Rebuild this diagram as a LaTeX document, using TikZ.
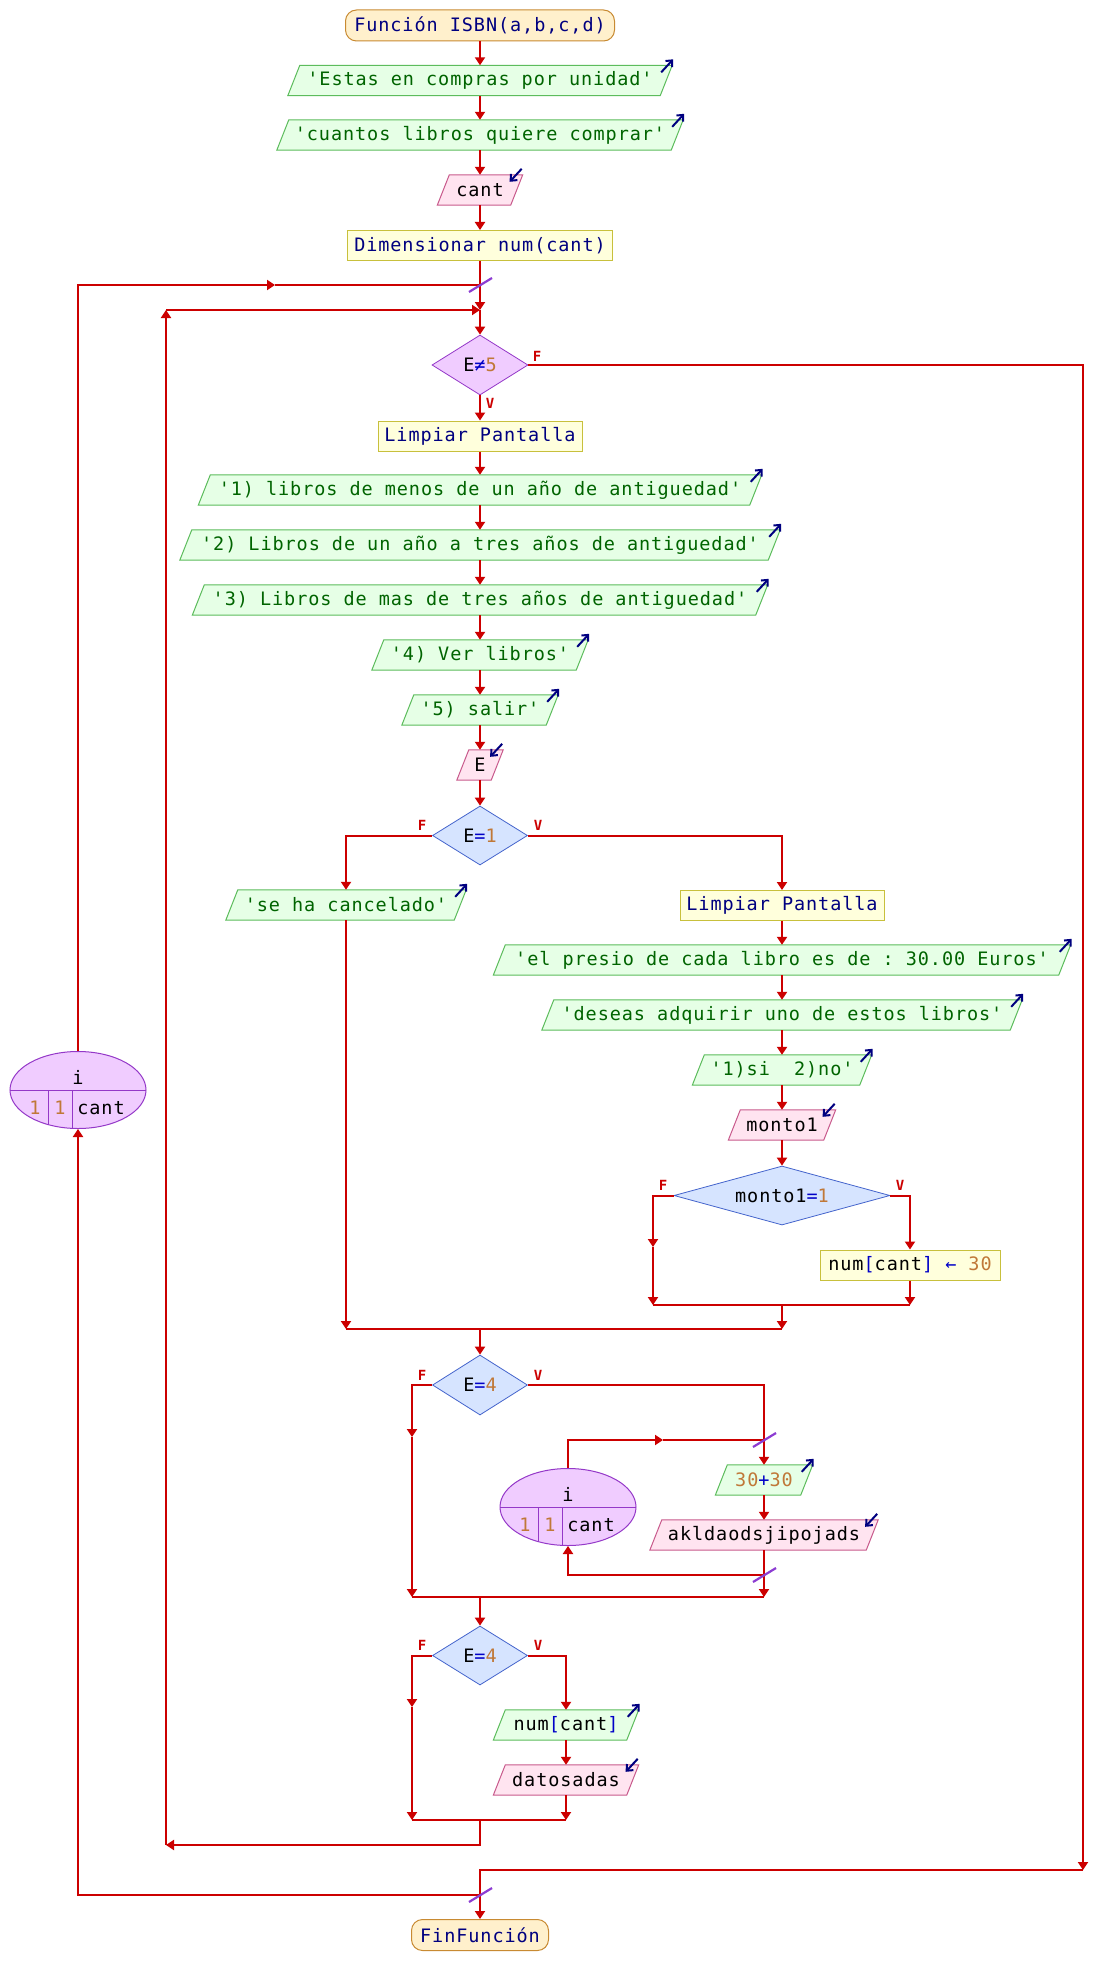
\documentclass[tikz,border=0pt]{standalone}
\usepackage{fontspec}
\setmonofont{DejaVu Sans Mono}[LetterSpace=5.0]
\newfontfamily\labelfont{DejaVu Sans Mono}
\usetikzlibrary{arrows.meta,shapes.geometric,backgrounds,calc}

\definecolor{linkred}{HTML}{CC0000}
\definecolor{kwcol}{HTML}{000080}
\definecolor{strcol}{HTML}{006400}
\definecolor{numcol}{HTML}{C07838}
\definecolor{opcol}{HTML}{0000C8}
\definecolor{termfill}{HTML}{FFF0CC}
\definecolor{termdraw}{HTML}{C88A32}
\definecolor{outfill}{HTML}{E6FFE6}
\definecolor{outdraw}{HTML}{5CBC5C}
\definecolor{infill}{HTML}{FFE4F0}
\definecolor{indraw}{HTML}{C85A8C}
\definecolor{procfill}{HTML}{FFFFDC}
\definecolor{procdraw}{HTML}{C8C03C}
\definecolor{iffill}{HTML}{D6E4FF}
\definecolor{ifdraw}{HTML}{4464CC}
\definecolor{loopfill}{HTML}{F0CCFF}
\definecolor{loopdraw}{HTML}{9438C8}
\definecolor{slashcol}{HTML}{8C3CD2}

\newcommand\kwd[1]{\textcolor{kwcol}{#1}}
\newcommand\strg[1]{\textcolor{strcol}{#1}}
\newcommand\numb[1]{\textcolor{numcol}{#1}}
\newcommand\oper[1]{\textcolor{opcol}{#1}}

\tikzset{
  code/.style={font=\fontsize{18.5}{22}\selectfont\ttfamily},
  term/.style={code, rectangle, rounded corners=11pt, draw=termdraw, fill=termfill,
    line width=1pt, minimum height=31pt, inner sep=0pt},
  proc/.style={code, rectangle, draw=procdraw, fill=procfill, line width=1pt,
    minimum height=30pt, inner sep=0pt},
  cond/.style={code, diamond, draw=ifdraw, fill=iffill, line width=0.8pt, inner sep=0pt},
  whilecond/.style={cond, draw=loopdraw, fill=loopfill},
  iobase/.style={code, rectangle, minimum height=30pt, inner sep=0pt},
  flow/.style={draw=linkred, line width=2pt, -{Triangle[width=10pt,length=8pt]}},
  wire/.style={draw=linkred, line width=2pt},
  yesno/.style={font=\fontsize{14}{14}\selectfont\labelfont\bfseries, text=linkred, inner sep=0pt},
  slash/.style={draw=slashcol, line width=2.2pt},
  icon/.style={draw=kwcol, line width=2pt, -{Straight Barb[length=5pt,width=9pt]}},
}

% parallelogram for reading / writing: name, x, y, width, kind (out/in), text
\newcommand\ioshape[6]{%
  \node[iobase, minimum width=#4pt] (#1) at (#2,#3) {#6};
  \begin{scope}[on background layer]
    \filldraw[fill=#5fill, draw=#5draw, line width=1pt]
      ([xshift=12pt]#1.north west) -- (#1.north east)
      -- ([xshift=-12pt]#1.south east) -- (#1.south west) -- cycle;
  \end{scope}
}
\newcommand\outicon[1]{\draw[icon] ($(#1.north east)+(-11,7)$) -- ($(#1.north east)+(1,-6)$);}
\newcommand\inicon[1]{\draw[icon] ($(#1.north east)+(-1,-6)$) -- ($(#1.north east)+(-13,7)$);}

% counting loop ellipse: name, centre
\newcommand\forring[2]{%
  \node[ellipse, draw=loopdraw, fill=loopfill, line width=1pt,
    minimum width=136pt, minimum height=77pt, inner sep=0pt] (#1) at (#2) {};
  \begin{scope}
    \clip (#1.center) ellipse [x radius=68, y radius=38.5];
    \draw[loopdraw, line width=1pt] ($(#1.center)+(-70,0)$) -- ($(#1.center)+(70,0)$);
    \draw[loopdraw, line width=1pt] ($(#1.center)+(-30,0)$) -- ($(#1.center)+(-30,40)$);
    \draw[loopdraw, line width=1pt] ($(#1.center)+(-6,0)$) -- ($(#1.center)+(-6,40)$);
  \end{scope}
  \node[code] (#1-var) at ($(#1.center)+(0,-13)$) {i};
  \node[code] (#1-from) at ($(#1.center)+(-43,18)$) {\numb{1}};
  \node[code] (#1-step) at ($(#1.center)+(-18,18)$) {\numb{1}};
  \node[code] (#1-to) at ($(#1.center)+(23,18)$) {cant};
}

\begin{document}
\begin{tikzpicture}[x=1pt,y=-1pt]
\useasboundingbox (0,0) rectangle (1094,1985);
\begin{scope}[on background layer]
  \fill[white] (0,0) rectangle (1094,1985);
\end{scope}

% ---------- main column ----------
\node[term, minimum width=269pt] (start) at (480,25.5) {\kwd{Función ISBN(a,b,c,d)}};
\ioshape{estas}{480}{80.5}{384}{out}{\strg{'Estas en compras por unidad'}}
\ioshape{cuantos}{480}{135}{406}{out}{\strg{'cuantos libros quiere comprar'}}
\ioshape{leecant}{480}{190}{85}{in}{cant}
\node[proc, minimum width=265pt] (dim) at (480,245.5) {\kwd{Dimensionar num(cant)}};

\node[whilecond, minimum width=96pt, minimum height=60pt, aspect=1.6] (dW) at (480,365) {E\oper{≠}\numb{5}};
\node[proc, minimum width=204pt] (limp1) at (480,436) {\kwd{Limpiar Pantalla}};
\ioshape{op1}{480}{490}{563}{out}{\strg{'1) libros de menos de un año de antiguedad'}}
\ioshape{op2}{480}{545}{600}{out}{\strg{'2) Libros de un año a tres años de antiguedad'}}
\ioshape{op3}{480}{600}{575}{out}{\strg{'3) Libros de mas de tres años de antiguedad'}}
\ioshape{op4}{480}{655}{216}{out}{\strg{'4) Ver libros'}}
\ioshape{op5}{480}{710}{156}{out}{\strg{'5) salir'}}
\ioshape{leeE}{480}{765}{46}{in}{E}

\node[cond, minimum width=95pt, minimum height=59pt, aspect=1.6] (d1) at (480,835.5) {E\oper{=}\numb{1}};
\ioshape{cancel}{346}{905}{240}{out}{\strg{'se ha cancelado'}}
\node[proc, minimum width=204pt] (limp2) at (782,905.5) {\kwd{Limpiar Pantalla}};
\ioshape{precio}{782}{960}{577}{out}{\strg{'el presio de cada libro es de : 30.00 Euros'}}
\ioshape{desea}{782}{1015}{480}{out}{\strg{'deseas adquirir uno de estos libros'}}
\ioshape{sino}{782}{1070}{179}{out}{\strg{'1)si~ 2)no'}}
\ioshape{leemonto}{782}{1125}{107}{in}{monto1}
\node[cond, minimum width=216pt, minimum height=59pt, aspect=3.66] (dm) at (782,1195.5) {monto1\oper{=}\numb{1}};
\node[proc, minimum width=180pt] (asig) at (910,1265) {num\oper{[}cant\oper{]} \oper{←} \numb{30}};

\node[cond, minimum width=95pt, minimum height=60pt, aspect=1.6] (d4a) at (480,1385) {E\oper{=}\numb{4}};
\forring{forB}{568,1507}
\ioshape{suma}{764}{1480}{97}{out}{\numb{30}\oper{+}\numb{30}}
\ioshape{leeakl}{764}{1535}{228}{in}{akldaodsjipojads}

\node[cond, minimum width=95pt, minimum height=59pt, aspect=1.6] (d4b) at (480,1655.5) {E\oper{=}\numb{4}};
\ioshape{vernum}{566}{1725}{145}{out}{num\oper{[}cant\oper{]}}
\ioshape{leedatos}{566}{1780}{145}{in}{datosadas}

\forring{forA}{78,1090}
\node[term, minimum width=137pt] (fin) at (480,1935) {\kwd{FinFunción}};

% ---------- reading / writing markers ----------
\outicon{estas} \outicon{cuantos} \inicon{leecant}
\outicon{op1} \outicon{op2} \outicon{op3} \outicon{op4} \outicon{op5} \inicon{leeE}
\outicon{cancel} \outicon{precio} \outicon{desea} \outicon{sino} \inicon{leemonto}
\outicon{suma} \inicon{leeakl} \outicon{vernum} \inicon{leedatos}

% ---------- junction points ----------
\coordinate (cutA) at (480,285);
\coordinate (wjoin) at (480,310);
\coordinate (outA) at (275,285);
\coordinate (mmid) at (653,1247);
\coordinate (mleft) at (653,1305);
\coordinate (mjoin) at (782,1305);
\coordinate (mright) at (910,1305);
\coordinate (eleft) at (346,1329);
\coordinate (ecenter) at (480,1329);
\coordinate (ejoin) at (782,1329);
\coordinate (fleftA) at (412,1437);
\coordinate (fbotA) at (412,1597);
\coordinate (cA) at (480,1597);
\coordinate (vbotA) at (764,1597);
\coordinate (cutB) at (764,1440);
\coordinate (loopmid) at (663,1440);
\coordinate (cutC) at (764,1575);
\coordinate (fleftB) at (412,1707);
\coordinate (fbotB) at (412,1820);
\coordinate (cB) at (480,1820);
\coordinate (vbotB) at (566,1820);
\coordinate (backA) at (480,1845);
\coordinate (backB) at (166,1845);
\coordinate (backC) at (166,310);
\coordinate (exA) at (1083,1870);
\coordinate (exB) at (480,1870);
\coordinate (cutD) at (480,1895);

% ---------- connectors ----------
\draw[flow] (start) -- (estas);
\draw[flow] (estas) -- (cuantos);
\draw[flow] (cuantos) -- (leecant);
\draw[flow] (leecant) -- (dim);
\draw[flow] (dim) -- (wjoin);
\draw[flow] (wjoin) -- (dW);
\draw[flow] (dW) -- (limp1);
\draw[flow] (limp1) -- (op1);
\draw[flow] (op1) -- (op2);
\draw[flow] (op2) -- (op3);
\draw[flow] (op3) -- (op4);
\draw[flow] (op4) -- (op5);
\draw[flow] (op5) -- (leeE);
\draw[flow] (leeE) -- (d1);

\draw[flow] (d1.west) -| (cancel.north);
\draw[flow] (d1.east) -| (limp2.north);
\draw[flow] (limp2) -- (precio);
\draw[flow] (precio) -- (desea);
\draw[flow] (desea) -- (sino);
\draw[flow] (sino) -- (leemonto);
\draw[flow] (leemonto) -- (dm);
\draw[flow] (dm.west) -| (mmid);
\draw[flow] (mmid) -- (mleft);
\draw[flow] (dm.east) -| (asig.north);
\draw[flow] (asig) -- (mright);
\draw[wire] (mleft) -- (mright);
\draw[flow] (mjoin) -- (ejoin);
\draw[flow] (cancel) -- (eleft);
\draw[wire] (eleft) -- (ejoin);
\draw[flow] (ecenter) -- (d4a);

\draw[flow] (d4a.west) -| (fleftA);
\draw[flow] (fleftA) -- (fbotA);
\draw[flow] (d4a.east) -| (suma.north);
\draw[flow] (suma) -- (leeakl);
\draw[flow] (leeakl) -- (vbotA);
\draw[flow] (forB.north) |- (loopmid);
\draw[wire] (loopmid) -- (cutB);
\draw[flow] (cutC) -| (forB.south);
\draw[wire] (fbotA) -- (vbotA);
\draw[flow] (cA) -- (d4b);

\draw[flow] (d4b.west) -| (fleftB);
\draw[flow] (fleftB) -- (fbotB);
\draw[flow] (d4b.east) -| (vernum.north);
\draw[flow] (vernum) -- (leedatos);
\draw[flow] (leedatos) -- (vbotB);
\draw[wire] (fbotB) -- (vbotB);

\draw[flow] (cB) -- (backA) -- (backB);
\draw[flow] (backB) -- (backC);
\draw[flow] (backC) -- (wjoin);

\draw[flow] (dW.east) -| (exA);
\draw[flow] (exA) -- (exB) -- (fin);

\draw[flow] (forA.north) |- (outA);
\draw[wire] (outA) -- (cutA);
\draw[flow] (cutD) -| (forA.south);

% ---------- loop marks ----------
\foreach \c in {cutA,cutB,cutC,cutD}
  \draw[slash] ($(\c)+(-11,7)$) -- ($(\c)+(12,-7)$);

% ---------- branch labels ----------
\node[yesno] (dW-F) at (537,356) {F};
\node[yesno] (dW-V) at (490,403) {V};
\node[yesno] (d1-F) at (422,825) {F};
\node[yesno] (d1-V) at (538,825) {V};
\node[yesno] (dm-F) at (663,1185) {F};
\node[yesno] (dm-V) at (900,1185) {V};
\node[yesno] (d4a-F) at (422,1375) {F};
\node[yesno] (d4a-V) at (538,1375) {V};
\node[yesno] (d4b-F) at (422,1645) {F};
\node[yesno] (d4b-V) at (538,1645) {V};
\end{tikzpicture}
\end{document}
